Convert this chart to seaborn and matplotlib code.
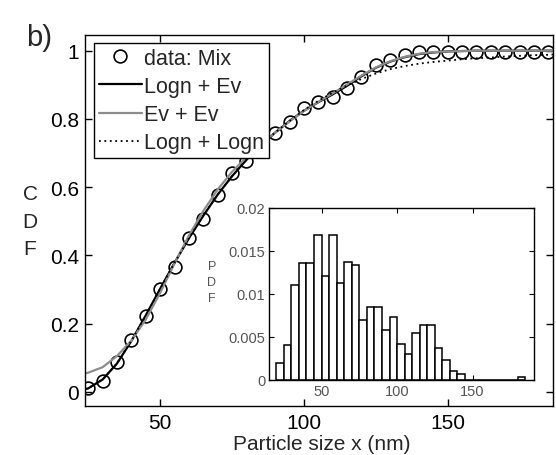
import matplotlib
matplotlib.use("Agg")
import matplotlib.pyplot as plt
import seaborn as sns
from matplotlib.lines import Line2D

# ---- empirical CDF of the mixture sample ----
data_x = [25, 30, 35, 40, 45, 50, 55, 60, 65, 70, 75, 80, 85, 90, 95, 100,
          105, 110, 115, 120, 125, 130, 135, 140, 145, 150, 155, 160, 165,
          170, 175, 180, 185]
data_cdf = [0.012, 0.032, 0.088, 0.153, 0.222, 0.300, 0.367, 0.452, 0.506,
            0.577, 0.640, 0.677, 0.719, 0.758, 0.790, 0.831, 0.850, 0.865,
            0.891, 0.924, 0.958, 0.974, 0.987, 0.995, 0.997, 0.997, 0.997,
            0.997, 0.997, 0.997, 0.997, 0.997, 0.997]

# ---- fitted mixture CDFs ----
fit_x = [24, 25, 30, 35, 40, 45, 50, 55, 60, 65, 70, 75, 80, 85, 90, 95, 100,
         105, 110, 115, 120, 125, 130, 135, 140, 145, 150, 155, 160, 165, 170,
         175, 180, 185, 187]
logn_ev = [0.008, 0.010, 0.036, 0.083, 0.149, 0.224, 0.302, 0.378, 0.450,
           0.516, 0.578, 0.632, 0.680, 0.722, 0.760, 0.794, 0.824, 0.849,
           0.872, 0.897, 0.925, 0.950, 0.968, 0.981, 0.990, 0.995, 0.998,
           0.999, 1.0, 1.0, 1.0, 1.0, 1.0, 1.0, 1.0]
ev_ev = [0.054, 0.056, 0.072, 0.105, 0.150, 0.212, 0.290, 0.376, 0.458,
         0.530, 0.593, 0.645, 0.688, 0.725, 0.760, 0.793, 0.823, 0.850,
         0.875, 0.901, 0.927, 0.951, 0.969, 0.982, 0.991, 0.996, 0.998,
         0.999, 1.0, 1.0, 1.0, 1.0, 1.0, 1.0, 1.0]
logn_logn = [0.008, 0.010, 0.036, 0.083, 0.149, 0.224, 0.302, 0.378, 0.450,
             0.516, 0.578, 0.632, 0.680, 0.722, 0.760, 0.794, 0.826, 0.853,
             0.877, 0.898, 0.917, 0.933, 0.946, 0.955, 0.962, 0.967, 0.971,
             0.975, 0.978, 0.980, 0.983, 0.985, 0.987, 0.988, 0.989]

# ---- histogram (PDF), 5 nm bins starting at 20 nm ----
bin_left = [20, 25, 30, 35, 40, 45, 50, 55, 60, 65, 70, 75, 80, 85, 90, 95,
            100, 105, 110, 115, 120, 125, 130, 135, 140, 180]
pdf = [0.0020, 0.0040, 0.0110, 0.0136, 0.0136, 0.0168, 0.0121, 0.0169,
       0.0113, 0.0137, 0.0134, 0.0069, 0.0085, 0.0085, 0.0058, 0.0073,
       0.0042, 0.0030, 0.0054, 0.0064, 0.0064, 0.0037, 0.0023, 0.0010,
       0.0007, 0.0003]
bin_edges = list(range(20, 190, 5))

main_xticks = [50, 100, 150]
main_yticks = [0, 0.2, 0.4, 0.6, 0.8, 1.0]
main_yticklabels = ["0", "0.2", "0.4", "0.6", "0.8", "1"]
inset_yticks = [0, 0.005, 0.01, 0.015, 0.02]
inset_yticklabels = ["0", "0.005", "0.01", "0.015", "0.02"]

sns.set_theme(style="ticks")
plt.rcParams["font.family"] = ["Liberation Sans", "DejaVu Sans"]
plt.rcParams["axes.linewidth"] = 1.0

fig = plt.figure(figsize=(5.56, 4.56), dpi=100)
fig.patch.set_facecolor("white")

# ---------------- main CDF axes ----------------
ax = fig.add_axes([0.152, 0.108, 0.8425, 0.813])
sns.lineplot(x=data_x, y=data_cdf, ax=ax, linestyle="", marker="o",
             markersize=9.2, markerfacecolor="none", markeredgecolor="black",
             markeredgewidth=1.2, color="black", estimator=None)
sns.lineplot(x=fit_x, y=logn_ev, ax=ax, color="black", linewidth=1.6,
             estimator=None)
sns.lineplot(x=fit_x, y=ev_ev, ax=ax, color="#8c8c8c", linewidth=1.6,
             estimator=None)
sns.lineplot(x=fit_x, y=logn_logn, ax=ax, color="black", linewidth=1.3,
             linestyle=(0, (1, 2)), estimator=None)

ax.set_xlim(23.7, 186.6)
ax.set_ylim(-0.041, 1.046)
ax.set_xticks(main_xticks)
ax.set_yticks(main_yticks)
ax.set_yticklabels(main_yticklabels)
ax.tick_params(direction="in", length=5, width=1, labelsize=15,
               top=True, right=True, pad=5, colors="black")
ax.tick_params(axis="y", pad=4)
for s in ax.spines.values():
    s.set_color("black")
    s.set_linewidth(1.0)
ax.set_xlabel("")
ax.set_ylabel("")

handles = [
    Line2D([], [], linestyle="", marker="o", markersize=9.2,
           markerfacecolor="none", markeredgecolor="black",
           markeredgewidth=1.2),
    Line2D([], [], color="black", linewidth=1.6),
    Line2D([], [], color="#8c8c8c", linewidth=1.6),
    Line2D([], [], color="black", linewidth=1.3, linestyle=(0, (1, 2))),
]
labels = ["data: Mix", "Logn + Ev", "Ev + Ev", "Logn + Logn"]
leg = ax.legend(handles, labels, loc="upper left",
                bbox_to_anchor=(0.0203, 0.978), borderaxespad=0,
                fontsize=15.5, frameon=True, fancybox=False, framealpha=1,
                edgecolor="black", handlelength=2.0, handletextpad=0.1,
                labelspacing=0.33, borderpad=0.22)
leg.get_frame().set_linewidth(1.0)

fig.text(322 / 556, 1 - 445 / 456, "Particle size x (nm)", fontsize=15,
         ha="center", va="center")
fig.text(30 / 556, 1 - 222 / 456, "C\nD\nF", fontsize=15, ha="center",
         va="center", linespacing=1.55)
fig.text(39 / 556, 1 - 38 / 456, "b)", fontsize=21, ha="center",
         va="center")

# ---------------- inset PDF histogram ----------------
ins = fig.add_axes([0.4847, 0.165, 0.4766, 0.3767])
ins.set_facecolor("white")
sns.histplot(x=[b + 2.5 for b in bin_left], weights=pdf, bins=bin_edges,
             ax=ins, color="white", edgecolor="black", linewidth=1.1,
             alpha=1.0, stat="count")
ins.set_xlim(15.5, 191)
ins.set_ylim(0, 0.02)
ins.set_xticks(main_xticks)
ins.set_yticks(inset_yticks)
ins.set_yticklabels(inset_yticklabels)
ins.tick_params(direction="in", length=3.5, width=0.8, labelsize=10.5,
                top=True, right=True, pad=3, labelcolor="#555555",
                color="black")
for s in ins.spines.values():
    s.set_color("black")
    s.set_linewidth(1.0)
ins.set_xlabel("")
ins.set_ylabel("")
fig.text(212 / 556, 1 - 283 / 456, "P\nD\nF", fontsize=9, ha="center",
         va="center", linespacing=1.45, color="#555555")

fig.savefig("out.png", dpi=100, facecolor="white")
